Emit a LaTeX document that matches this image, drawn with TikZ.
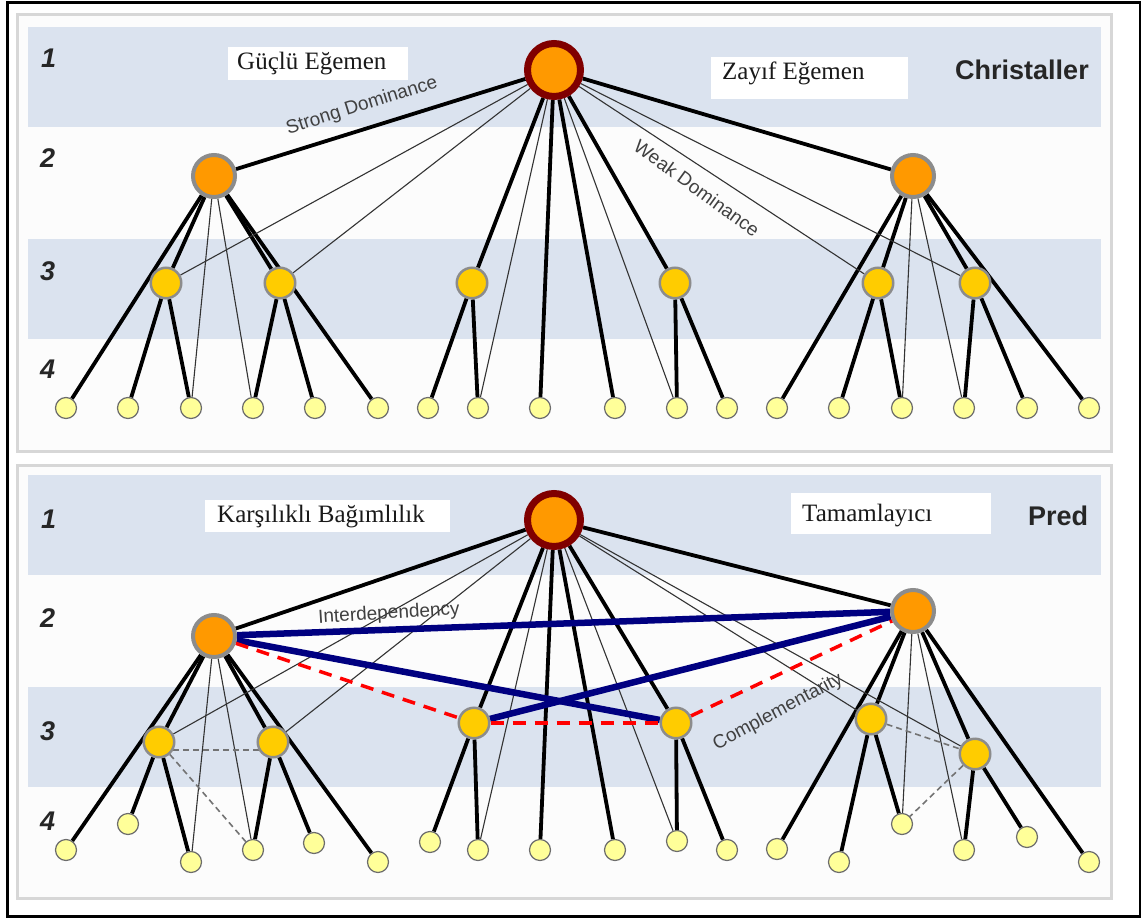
\documentclass[tikz,border=0pt]{standalone}
\usepackage{fontspec}
\setmainfont{Liberation Serif}
\setsansfont{Liberation Sans}
\definecolor{bandblue}{RGB}{219,227,239}
\definecolor{hubfill}{RGB}{255,153,0}
\definecolor{rootrim}{RGB}{128,0,0}
\definecolor{rimgray}{RGB}{140,140,140}
\definecolor{subfill}{RGB}{255,204,0}
\definecolor{leaffill}{RGB}{255,255,153}
\definecolor{linknavy}{RGB}{0,0,128}
\definecolor{panelrim}{RGB}{215,215,215}
\pgfdeclarelayer{bg}
\pgfdeclarelayer{edges}
\pgfsetlayers{bg,edges,main}

% edges shared by both hierarchies; #1 is the node-name prefix
\newcommand\treeedges[1]{%
  \foreach \p/\q in {R/A,R/B,R/c3,R/c4,R/l9,R/l10,A/l1,A/c1,A/c2,A/l6,
                     c1/l2,c1/l3,c2/l4,c2/l5,c3/l7,c3/l8,c4/l11,c4/l12,
                     B/l13,B/c5,B/c6,B/l18,c5/l14,c5/l15,c6/l16,c6/l17}
    \draw[strongedge] (#1\p) -- (#1\q);
  \foreach \p/\q in {R/c1,R/c2,R/l8,R/l11,R/c5,R/c6,A/l3,A/l4,B/l15,B/l16}
    \draw[weakedge] (#1\p) -- (#1\q);
}

\begin{document}
\begin{tikzpicture}[x=1pt,y=-1pt,
  rootnode/.style={circle,inner sep=0pt,minimum size=53pt,fill=hubfill,draw=rootrim,line width=7pt},
  hubnode/.style={circle,inner sep=0pt,minimum size=42pt,fill=hubfill,draw=rimgray,line width=4pt},
  subnode/.style={circle,inner sep=0pt,minimum size=30.5pt,fill=subfill,draw=rimgray,line width=2.5pt},
  leafnode/.style={circle,inner sep=0pt,minimum size=21pt,fill=leaffill,draw=gray!85!black,line width=1.2pt},
  strongedge/.style={line width=3.8pt,black},
  weakedge/.style={line width=1.1pt,black!80},
  linkedge/.style={line width=6.5pt,linknavy},
  compedge/.style={line width=3.5pt,red,dash pattern=on 13pt off 9pt},
  peeredge/.style={line width=1.6pt,black!55,dash pattern=on 6pt off 4pt},
  level/.style={font=\sffamily\bfseries\itshape\fontsize{27}{27}\selectfont,text=black!85,anchor=base west,inner sep=0pt},
  title/.style={font=\sffamily\bfseries\fontsize{27}{27}\selectfont,text=black!85,anchor=base west,inner sep=0pt},
  tag/.style={font=\fontsize{25}{25}\selectfont,text=black!90,anchor=base west,inner sep=0pt},
  note/.style={font=\sffamily\fontsize{19}{19}\selectfont,text=black!75,inner sep=0pt},
]
\useasboundingbox (0,0) rectangle (1146,920);

% ---------- frames and level bands ----------
\begin{pgfonlayer}{bg}
  \fill[white] (0,0) rectangle (1146,920);
  \draw[line width=2.8pt] (7.5,2.5) rectangle (1140,916.5);
  \draw[panelrim,line width=3pt,fill=white!99!black] (17,15) rectangle (1111,451);
  \draw[panelrim,line width=3pt,fill=white!99!black] (17,465) rectangle (1111,898);
  \fill[bandblue] (28,27) rectangle (1101,127);
  \fill[bandblue] (28,239) rectangle (1101,339);
  \fill[bandblue] (28,475) rectangle (1101,575);
  \fill[bandblue] (28,687) rectangle (1101,787);
  % label boxes
  \fill[white] (228,47) rectangle (408,80);
  \fill[white] (711,57) rectangle (908,99);
  \fill[white] (205,500) rectangle (450,532);
  \fill[white] (791,493) rectangle (991,534);
\end{pgfonlayer}

% ---------- level numbers and titles ----------
\node[level] (n1t) at (41,68) {1};
\node[level] (n2t) at (40,168) {2};
\node[level] (n3t) at (40,280) {3};
\node[level] (n4t) at (40,378) {4};
\node[level] (n1b) at (41,528) {1};
\node[level] (n2b) at (40,627) {2};
\node[level] (n3b) at (40,740) {3};
\node[level] (n4b) at (40,830) {4};
\node[title] (christ) at (955,80) {Christaller};
\node[title] (pred) at (1028,525) {Pred};
\node[tag] (gucl) at (237,70) {Güçlü Eğemen};
\node[tag] (zayif) at (722,80) {Zayıf Eğemen};
\node[tag] (karsi) at (217,522) {Karşılıklı Bağımlılık};
\node[tag] (tamam) at (802,521) {Tamamlayıcı};

% ---------- upper hierarchy (Christaller) ----------
\node[rootnode] (tR) at (554,70) {};
\node[hubnode] (tA) at (214,176) {};
\node[hubnode] (tB) at (913,176) {};
\foreach \i/\x in {1/166,2/280,3/472,4/675,5/878,6/975}
  \node[subnode] (tc\i) at (\x,283) {};
\foreach \i/\x in {1/66,2/128,3/191,4/253,5/315,6/378,7/428,8/478,9/540,
                   10/615,11/677,12/727,13/777,14/839,15/902,16/964,17/1027,18/1089}
  \node[leafnode] (tl\i) at (\x,408) {};

% ---------- lower hierarchy (Pred) ----------
\node[rootnode] (bR) at (554,520) {};
\node[hubnode] (bA) at (214,636) {};
\node[hubnode] (bB) at (913,611) {};
\foreach \i/\x/\y in {1/159/742,2/273/742,3/474/723,4/676/723,5/871/719,6/975/754}
  \node[subnode] (bc\i) at (\x,\y) {};
\foreach \i/\x/\y in {1/66/850,2/128/824,3/191/862,4/253/850,5/314/843,6/378/862,
                      7/430/842,8/478/850,9/540/850,10/615/850,11/677/841,12/727/850,
                      13/777/849,14/839/862,15/902/824,16/964/850,17/1027/837,18/1089/862}
  \node[leafnode] (bl\i) at (\x,\y) {};

% ---------- connectors ----------
\begin{pgfonlayer}{edges}
  \treeedges{t}
  \treeedges{b}
  % neighbour ties inside the lower hierarchy
  \draw[peeredge] (bc1.-30) -- (bc2.-150);
  \draw[peeredge] (bc1) -- (bl4);
  \draw[peeredge] (bc5) -- (bc6);
  \draw[peeredge] (bc6) -- (bl15);
  % interdependency
  \draw[linkedge] (bA) -- (bB);
  \draw[linkedge] (bA) -- (bc4);
  \draw[linkedge] (bc3) -- (bB);
  % complementarity
  \draw[compedge] (bA) -- (bc3);
  \draw[compedge] (bc3) -- (bc4);
  \draw[compedge] (bc4) -- (bB);
\end{pgfonlayer}

% ---------- connector captions ----------
\node[note,rotate=17.5] (strong) at (362,106) {Strong Dominance};
\node[note,rotate=-36] (weak) at (697,188) {Weak Dominance};
\node[note,rotate=3.5] (inter) at (389,614) {Interdependency};
\node[note,rotate=28] (compl) at (778,712) {Complementarity};
\end{tikzpicture}
\end{document}
